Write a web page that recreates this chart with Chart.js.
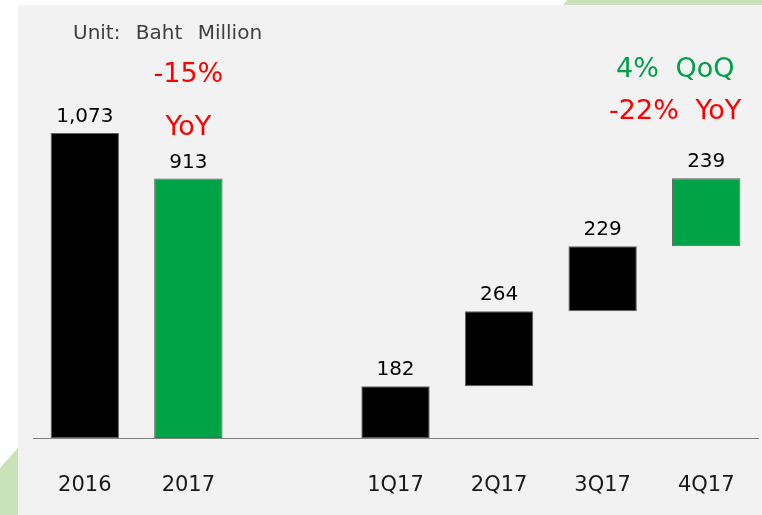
<!DOCTYPE html>
<html>
<head>
<meta charset="utf-8">
<script src="https://cdn.jsdelivr.net/npm/chart.js@4.4.0/dist/chart.umd.min.js"></script>
<style>
  html, body { margin: 0; padding: 0; background: #ffffff; }
  #wrap { position: relative; width: 762px; height: 515px; overflow: hidden; }
  #panel { position: absolute; left: 18px; top: 5px; width: 744px; height: 510px; background: #f2f2f2; }
  #decoTop { position: absolute; left: 563px; top: 0; width: 199px; height: 5px; background: #c9e2b8;
             clip-path: polygon(4px 0, 100% 0, 100% 100%, 0 100%); }
  #decoLeft { position: absolute; left: 0; top: 448px; width: 18px; height: 67px; background: #c9e2b8;
              clip-path: polygon(0 20px, 100% 0, 100% 100%, 0 100%); }
  canvas { position: absolute; left: 0; top: 0; }
</style>
</head>
<body>
<div id="wrap">
  <div id="panel"></div>
  <div id="decoTop"></div>
  <div id="decoLeft"></div>
  <canvas id="chart" width="762" height="515"></canvas>
</div>
<script>
// data
const categories = ["2016", "2017", "", "1Q17", "2Q17", "3Q17", "4Q17"];
const values = [1073, 913, null, 182, 264, 229, 239];
const stacked = [false, false, false, true, true, true, true]; // quarters stack up like a waterfall
const barColors = ["#000000", "#00a346", "#000000", "#000000", "#000000", "#000000", "#00a346"];

const unitLabel = "Unit: Baht Million";
const yoyLabel = ["-15%", "YoY"];
const quarterLabel = [["4% QoQ", "#00a04a"], ["-22% YoY", "#ff0000"]];

// floating bars for the quarterly waterfall
let running = 0;
const ranges = values.map((v, i) => {
  if (v === null) return null;
  if (!stacked[i]) return [0, v];
  const r = [running, running + v];
  running += v;
  return r;
});

const fontFamily = "'DejaVu Sans', sans-serif";

const labelsPlugin = {
  id: "labels",
  afterDatasetsDraw(chart) {
    const ctx = chart.ctx;
    const meta = chart.getDatasetMeta(0);
    const y = chart.scales.y;
    const x = chart.scales.x;
    ctx.save();
    ctx.textAlign = "center";
    ctx.textBaseline = "middle";
    ctx.font = "20px " + fontFamily;
    ctx.fillStyle = "#000000";
    meta.data.forEach((bar, i) => {
      if (values[i] === null) return;
      ctx.fillText(values[i].toLocaleString("en-US"), bar.x, y.getPixelForValue(ranges[i][1]) - 16);
    });

    // unit
    ctx.textAlign = "left";
    ctx.fillStyle = "#404040";
    ctx.font = "20px " + fontFamily;
    ctx.wordSpacing = "9px";
    ctx.fillText(unitLabel, 73, 34);

    // YoY annual change
    ctx.textAlign = "center";
    ctx.font = "27px " + fontFamily;
    ctx.wordSpacing = "8px";
    ctx.fillStyle = "#ff0000";
    const x2017 = x.getPixelForValue(1);
    ctx.fillText(yoyLabel[0], x2017, 75);
    ctx.fillText(yoyLabel[1], x2017, 128);

    // quarterly change
    const x4q = x.getPixelForValue(6) - 31;
    quarterLabel.forEach((q, k) => {
      ctx.fillStyle = q[1];
      ctx.fillText(q[0], x4q, 70 + k * 42);
    });
    ctx.restore();
  }
};

new Chart(document.getElementById("chart"), {
  type: "bar",
  data: {
    labels: categories,
    datasets: [{
      data: ranges,
      backgroundColor: barColors,
      borderColor: "#606060",
      borderWidth: 1,
      borderSkipped: false,
      barPercentage: 0.66,
      categoryPercentage: 1.0
    }]
  },
  options: {
    responsive: false,
    animation: false,
    layout: { padding: { left: 33, right: 4, top: 6, bottom: 0 } },
    plugins: { legend: { display: false }, tooltip: { enabled: false } },
    scales: {
      x: {
        grid: { display: false },
        border: { display: true, color: "#808080", width: 1 },
        ticks: { color: "#1a1a1a", font: { size: 21, family: fontFamily }, padding: 27 },
        afterFit(scale) { scale.height = 77; }
      },
      y: { display: false, min: 0, max: 1520 }
    }
  },
  plugins: [labelsPlugin]
});
</script>
</body>
</html>
